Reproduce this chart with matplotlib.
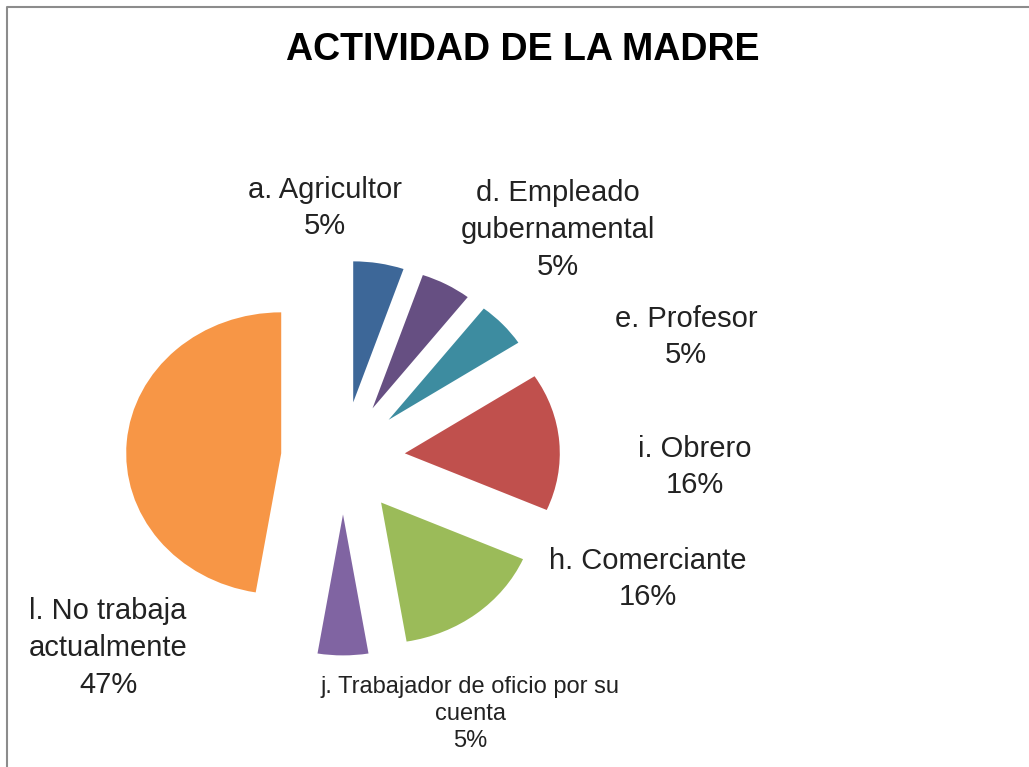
import matplotlib
matplotlib.use('Agg')
import matplotlib.pyplot as plt
from matplotlib.lines import Line2D

plt.rcParams['font.family'] = ['Liberation Sans', 'DejaVu Sans']

# data: counts of mothers by occupation (19 in total)
categories = [
    'a. Agricultor',
    'd. Empleado\ngubernamental',
    'e. Profesor',
    'i. Obrero',
    'h. Comerciante',
    'j. Trabajador de oficio por su\ncuenta',
    'l. No trabaja\nactualmente',
]
counts = [1, 1, 1, 3, 3, 1, 9]
colors = ['#3D6798', '#664F82', '#3D8CA0', '#C0504D', '#9BBB59', '#8064A2', '#F79646']

# label centres in pixels (x from left, y from top) and font sizes
label_px = [(325, 208), (558, 230), (686, 337), (695, 467), (648, 579), (470, 714), (108, 648)]
label_size = [21, 21, 21, 21, 21, 17, 21]
label_spacing = [1.4, 1.4, 1.4, 1.4, 1.4, 1.3, 1.4]

W, H = 1029, 767
fig = plt.figure(figsize=(W / 100, H / 100), dpi=100)
ax = fig.add_axes([0, 0, 1, 1])

ax.pie(
    counts,
    colors=colors,
    explode=[0.4] * len(counts),
    startangle=90,
    counterclock=False,
    radius=1,
    wedgeprops=dict(linewidth=0),
)

# pie centre at (343, 458) px, radius 155 px across and 141 px down
cx, cy, rx, ry = 343, 458, 155, 141
ax.set_xlim(-cx / rx, (W - cx) / rx)
ax.set_ylim(-(H - cy) / ry, cy / ry)
ax.set_aspect('auto')
ax.axis('off')

total = sum(counts)
for name, n, (px, py), fs, ls in zip(categories, counts, label_px, label_size, label_spacing):
    pct = round(n / total * 100)
    fig.text(px / W, 1 - py / H, f'{name}\n{pct}%', ha='center', va='center',
             multialignment='center', fontsize=fs, color='#222222', linespacing=ls)

fig.text(523 / W, 1 - 50 / H, 'ACTIVIDAD DE LA MADRE', ha='center', va='center',
         fontsize=27, fontweight='bold', color='black')

# chart-area border (top and left edges visible)
fig.add_artist(Line2D([7 / W, 7 / W, 1], [0, 1 - 7 / H, 1 - 7 / H],
                      transform=fig.transFigure, color='#8c8c8c', linewidth=1.5))

fig.savefig('out.png', dpi=100, facecolor='white')
